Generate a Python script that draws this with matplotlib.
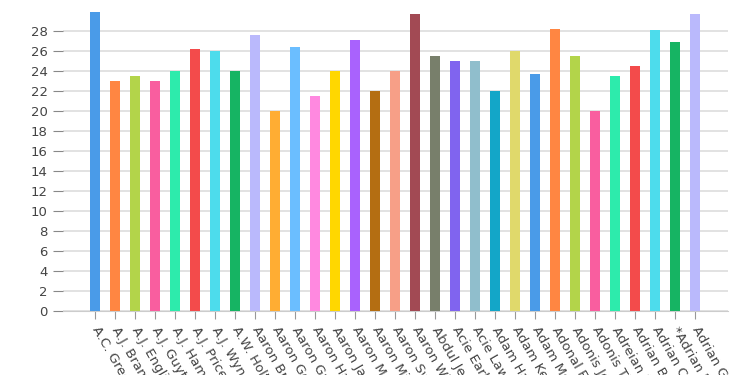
import matplotlib.pyplot as plt

# 1. Data
players = ["A.C. Green", "A.J. Bramlett", "A.J. English", "A.J. Guyton", "A.J. Hammons",
           "A.J. Price", "A.J. Wynder", "A.W. Holt", "Aaron Brooks", "Aaron Gordon",
           "Aaron Gray", "Aaron Harrison", "Aaron Jackson", "Aaron McKie", "Aaron Miles",
           "Aaron Swinson", "Aaron Williams", "Abdul Jeelani", "Acie Earl", "Acie Law",
           "Adam Harrington", "Adam Keefe", "Adam Morrison", "Adonal Foyle", "Adonis Jordan",
           "Adonis Thomas", "Adreian Payne", "Adrian Branch", "Adrian Caldwell",
           "*Adrian Dantley", "Adrian Griffin"]
values = [29.9, 23, 23.5, 23, 24, 26.25, 26, 24, 27.6, 20, 26.4, 21.5, 24, 27.1, 22, 24,
          29.75, 25.5, 25, 25, 22, 26, 23.75, 28.25, 25.5, 20, 23.5, 24.5, 28.1, 26.9, 29.75]
palette = ["#4a9be8", "#ff8642", "#b3d44a", "#f95e9f", "#2debac", "#f34b4b", "#4ddcec",
           "#16b463", "#bab9fc", "#ffad33", "#6bbeff", "#ff89e0", "#ffd700", "#a962fd",
           "#b46e12", "#f79f87", "#a24a54", "#787f6b", "#8064ef", "#90becc", "#13a6c8",
           "#e0d96b"]
yticks = list(range(0, 30, 2))

colors = [palette[i % len(palette)] for i in range(len(values))]

# 2. Figure
fig = plt.figure(figsize=(7.4, 3.75), dpi=100)
ax = fig.add_axes([63 / 740, 1 - 311 / 375, 665 / 740, 300 / 375])

x = list(range(len(values)))
ax.bar(x, values, width=0.5, color=colors, zorder=3)

ax.set_xlim(-1.6, len(values) - 1 + 1.65)
ax.set_ylim(0, 30)
ax.set_yticks(yticks)
ax.yaxis.grid(True, color="#dddddd", linewidth=1.2, zorder=0)

ax.set_xticks(x)
ax.set_xticklabels(players, rotation=-60, ha="left", va="center",
                   rotation_mode="anchor", fontsize=9.5, color="#444444")
ax.tick_params(axis="x", length=6, color="#999999", pad=6)
ax.tick_params(axis="y", length=7, color="#888888", labelsize=9.5, labelcolor="#444444", pad=4)

for side in ["top", "right", "left"]:
    ax.spines[side].set_visible(False)
ax.spines["bottom"].set_color("#cccccc")

plt.savefig("out.png", dpi=100)
